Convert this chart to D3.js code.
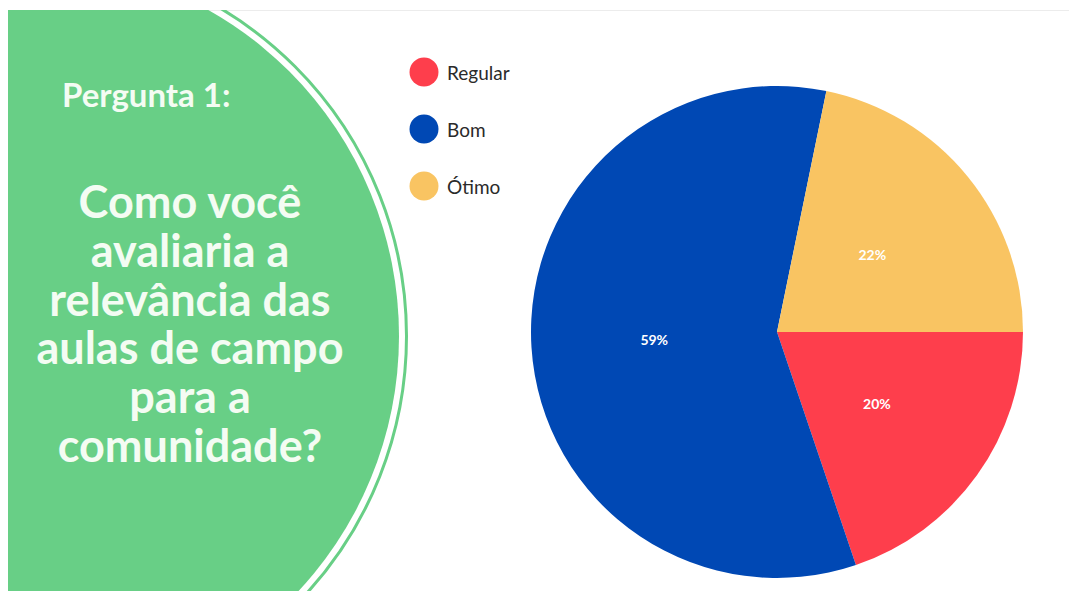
<!DOCTYPE html>
<html lang="pt">
<head>
<meta charset="UTF-8">
<title>Pergunta 1</title>
<script src="https://cdn.jsdelivr.net/npm/d3@7"></script>
<style>
  body { margin: 0; background: #fff; }
  svg { display: block; }
</style>
</head>
<body>
<svg id="chart" width="1069" height="591"></svg>
<script>
// dados
const categories = ["Regular", "Bom", "Ótimo"];
const values = [20, 59, 22];
const questionLabel = "Pergunta 1:";
const questionLines = ["Como você", "avaliaria a", "relevância das", "aulas de campo", "para a", "comunidade?"];

const svg = d3.select("#chart");
const W = 1069, H = 591;

// faixa cinza do topo
svg.append("line")
  .attr("x1", 8).attr("x2", W).attr("y1", 10.5).attr("y2", 10.5)
  .attr("stroke", "#ececec").attr("stroke-width", 1);

// circulo verde cortado
svg.append("clipPath").attr("id", "slide")
  .append("rect").attr("x", 8).attr("y", 10).attr("width", W).attr("height", H);

let left = svg.append("g").attr("clip-path", "url(#slide)");
left.append("circle")
  .attr("cx", 25).attr("cy", 336).attr("r", 374)
  .attr("fill", "#68cf86");
left.append("circle")
  .attr("cx", 25).attr("cy", 336).attr("r", 381.5)
  .attr("fill", "none").attr("stroke", "#68cf86").attr("stroke-width", 3);

let txt = svg.append("g")
  .attr("font-family", "Lato, 'Open Sans', sans-serif")
  .attr("font-weight", "bold")
  .attr("fill", "#f4fcf3");

txt.append("text")
  .attr("x", 62).attr("y", 107)
  .attr("font-size", 33)
  .text(questionLabel);

// pergunta como um bloco de texto só
let lineY = d3.scaleLinear().domain([0, questionLines.length - 1]).range([218, 462]);
txt.append("text")
  .attr("text-anchor", "middle")
  .attr("font-size", 45)
  .selectAll("tspan").data(questionLines)
  .enter().append("tspan")
  .attr("x", 190)
  .attr("y", (d, i) => lineY(i))
  .text(d => d);

// pizza
const color = d3.scaleOrdinal()
  .domain(categories)
  .range(["#fe3e4c", "#0048b4", "#f9c462"]);

const cx = 777, cy = 332, r = 246;
const pie = d3.pie().sort(null)
  .startAngle(Math.PI / 2).endAngle(Math.PI / 2 + 2 * Math.PI);
const arcs = pie(values);
const arc = d3.arc().innerRadius(0).outerRadius(r);

let pieG = svg.append("g").attr("transform", `translate(${cx},${cy})`);
pieG.selectAll("path").data(arcs)
  .enter().append("path")
  .attr("d", arc)
  .attr("fill", (d, i) => color(categories[i]));

pieG.selectAll("text").data(arcs)
  .enter().append("text")
  .attr("transform", d => `translate(${arc.centroid(d)})`)
  .attr("text-anchor", "middle")
  .attr("dominant-baseline", "central")
  .attr("font-family", "Lato, sans-serif")
  .attr("font-weight", "bold")
  .attr("font-size", 14)
  .attr("fill", "#ffffff")
  .text(d => d.data + "%");

// legenda
let legY = d3.scalePoint().domain(categories).range([72, 186]);
let leg = svg.append("g");
leg.selectAll("circle").data(categories)
  .enter().append("circle")
  .attr("cx", 424).attr("cy", d => legY(d)).attr("r", 14.5)
  .attr("fill", d => color(d));
leg.selectAll("text").data(categories)
  .enter().append("text")
  .attr("x", 447).attr("y", d => legY(d))
  .attr("dominant-baseline", "central")
  .attr("font-family", "Lato, sans-serif")
  .attr("font-size", 19)
  .attr("fill", "#2a2a2a")
  .text(d => d);
</script>
</body>
</html>
